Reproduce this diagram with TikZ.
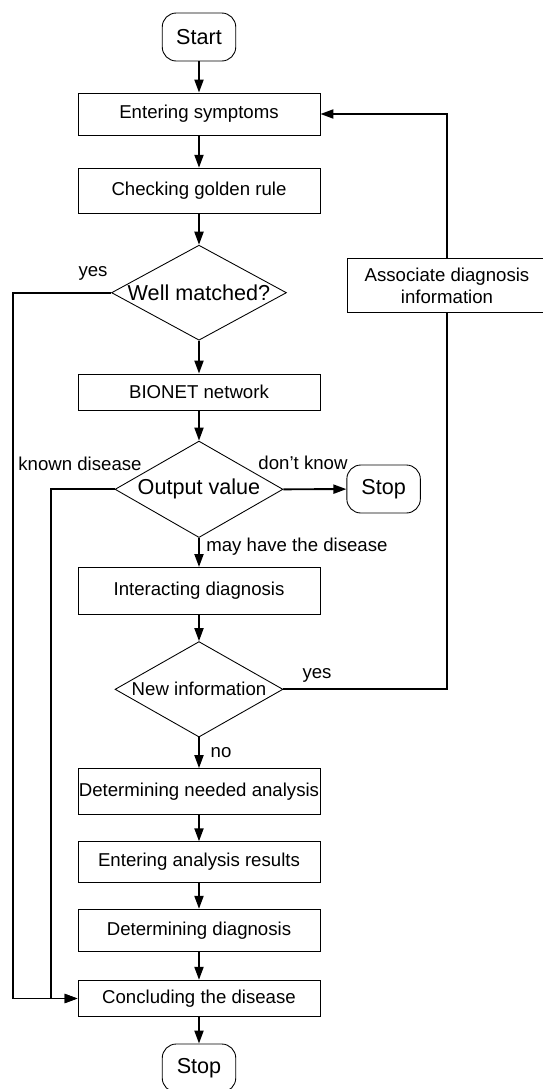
\documentclass[tikz,border=0pt]{standalone}
\usepackage{fontspec}
\setmainfont{Liberation Sans}
\usepackage{tikz}
\usetikzlibrary{shapes.geometric, arrows.meta, positioning}
\tikzstyle{process} = [rectangle, 
draw=black, 
line width=0.5pt, 
minimum width=4.84cm, 
inner xsep=0pt, text centered]
\tikzstyle{terminal} = [rectangle, rounded corners=0.28cm, draw=black, line width=0.5pt, minimum width=1.47cm, minimum height=0.96cm]
\tikzstyle{decision} = [diamond, aspect=1.8, draw=black, line width=0.5pt, inner sep=0pt]
\tikzstyle{arrow} = [line width=1.1pt, -{Triangle[length=2.6mm, width=1.8mm]}]
\tikzstyle{line} = [line width=1.1pt]

\begin{document}
\begin{tikzpicture}[
        x=0.02cm, y=-0.02cm,
        font=\fontsize{10.6}{12.5}\selectfont,
        big/.style={font=\fontsize{12.3}{14.5}\selectfont},
    ]
        \useasboundingbox (0,0) rectangle (543,1089);

        \node[terminal, big] (start) at (199,37) {Start};
        \node[process, minimum height=0.84cm] (symptoms) at (199,114) {Entering symptoms};
        \node[process, minimum height=0.9cm] (golden) at (199,190.7) {Checking golden rule};
        \node[decision, big, minimum width=3.5cm, minimum height=1.9cm] (matched) at (199,292.7) {Well matched?};
        \node[process, minimum height=0.72cm] (bionet) at (199,392) {BIONET network};
        \node[decision, big, minimum width=3.36cm, minimum height=1.93cm] (output) at (199,489.3) {Output value};
        \node[terminal, big] (stopright) at (383.6,489) {Stop};
        \node[process, minimum height=0.93cm] (interact) at (199,590.7) {Interacting diagnosis};
        \node[decision, minimum width=3.36cm, minimum height=1.91cm] (newinfo) at (199,689.3) {New information};
        \node[process, minimum height=0.91cm] (needed) at (199,791.3) {Determining needed analysis};
        \node[process, minimum height=0.81cm] (results) at (199,862) {Entering analysis results};
        \node[process, minimum height=0.85cm] (diagnosis) at (199,930.5) {Determining diagnosis};
        \node[process, minimum height=0.73cm] (conclude) at (199,998.5) {Concluding the disease};
        \node[terminal, big] (stopbottom) at (199,1068) {Stop};

        \node[process, minimum width=4cm, minimum height=1.09cm, align=center] (assoc) at (447,285.5) {Associate diagnosis\\information};

        % bends on the left side
        \coordinate (yesbend) at (13,292.7);
        \coordinate (knownbend) at (51,489.3);

        \draw[arrow] (start) -- (symptoms);
        \draw[arrow] (symptoms) -- (golden);
        \draw[arrow] (golden) -- (matched);
        \draw[arrow] (matched) -- (bionet);
        \draw[arrow] (bionet) -- (output);
        \draw[arrow] (output) -- (interact);
        \draw[arrow] (interact) -- (newinfo);
        \draw[arrow] (newinfo) -- (needed);
        \draw[arrow] (needed) -- (results);
        \draw[arrow] (results) -- (diagnosis);
        \draw[arrow] (diagnosis) -- (conclude);
        \draw[arrow] (conclude) -- (stopbottom);
        \draw[arrow] (output.east) -- (stopright);

        \draw[arrow] (matched.west) -- (yesbend) |- (conclude.west);
        \draw[arrow] (output.west) -- (knownbend) |- (conclude.west);

        \draw[line] (newinfo.east) -| (assoc.south);
        \draw[arrow] (assoc.north) |- (symptoms.east);

        \node (yeslabel) at (93,273) {yes};
        \node (knownlabel) at (80,464) {known disease};
        \node (dontlabel) at (303,463) {don’t know};
        \node[anchor=west, inner sep=0pt] (maylabel) at (206,547) {may have the disease};
        \node (yeslabel2) at (317,675) {yes};
        \node (nolabel) at (221,753) {no};
    \end{tikzpicture}
\end{document}
